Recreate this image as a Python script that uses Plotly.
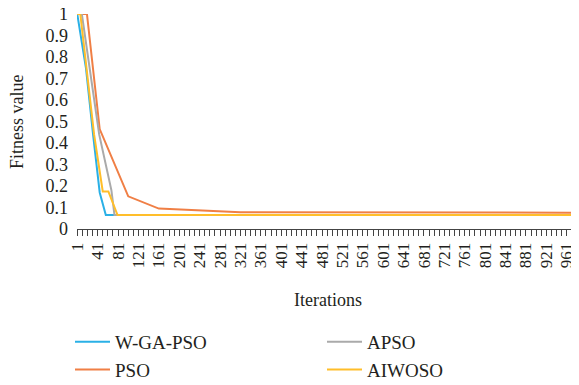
import plotly.graph_objects as go

# ---- data ----
wga_iter = [1, 18, 32, 45, 57, 1000]
wga_val = [1.0, 0.75, 0.44, 0.17, 0.065, 0.065]

pso_iter = [1, 20, 45, 101, 161, 321, 1000]
pso_val = [1.0, 1.0, 0.465, 0.152, 0.095, 0.078, 0.076]

apso_iter = [1, 10, 44, 68, 74, 1000]
apso_val = [1.0, 1.0, 0.44, 0.18, 0.065, 0.065]

aiwoso_iter = [1, 7, 34, 51, 62, 80, 1000]
aiwoso_val = [1.0, 1.0, 0.44, 0.175, 0.175, 0.065, 0.065]

y_ticks = [0, 0.1, 0.2, 0.3, 0.4, 0.5, 0.6, 0.7, 0.8, 0.9, 1]
y_tick_labels = ["0", "0.1", "0.2", "0.3", "0.4", "0.5", "0.6", "0.7", "0.8", "0.9", "1"]

FONT = "Liberation Serif, Times New Roman, serif"
TXT = "#231F20"

# page body has an 8px margin: the figure is laid out 8px smaller
OFF = 8
W, H = 579 - OFF, 385 - OFF
L, T = 77 - OFF, 14 - OFF
PLOT_W, PLOT_H = W - L, (229 - OFF) - T

series = [
    ("W-GA-PSO", wga_iter, wga_val, "#2AB0E6", "legend"),
    ("PSO", pso_iter, pso_val, "#F07F45", "legend"),
    ("APSO", apso_iter, apso_val, "#AAAAAA", "legend2"),
    ("AIWOSO", aiwoso_iter, aiwoso_val, "#FFBE2A", "legend2"),
]

fig = go.Figure()
for name, xs, ys, col, leg in series:
    fig.add_trace(go.Scatter(
        x=xs, y=ys, mode="lines", name=name,
        line=dict(color=col, width=2),
        legend=leg,
    ))

leg_common = dict(
    orientation="v", xref="container", yref="container",
    xanchor="left", yanchor="top", itemwidth=35,
    font=dict(family=FONT, size=19, color=TXT),
    bgcolor="rgba(0,0,0,0)", tracegroupgap=0,
)

fig.update_layout(
    width=W, height=H,
    margin=dict(l=L, r=0, t=T, b=H - (229 - OFF), autoexpand=False),
    paper_bgcolor="white", plot_bgcolor="white",
    font=dict(family=FONT, size=18, color=TXT),
    showlegend=True,
    legend=dict(x=(70 - OFF) / W, y=1 - (323 - OFF) / H, **leg_common),
    legend2=dict(x=(322 - OFF) / W, y=1 - (323 - OFF) / H, **leg_common),
    annotations=[dict(
        text="Fitness value", textangle=-90, showarrow=False,
        xref="paper", yref="paper",
        x=(17 - OFF - L) / PLOT_W, y=(229 - 122) / PLOT_H,
        xanchor="center", yanchor="middle",
        font=dict(family=FONT, size=18, color=TXT),
    )],
)

fig.update_xaxes(
    range=[0.5, 985],
    tickmode="linear", tick0=1, dtick=40,
    ticks="outside", ticklen=6, tickcolor="#444", tickwidth=1,
    minor=dict(tick0=1, dtick=10, ticks="outside", ticklen=6, tickcolor="#444", tickwidth=1),
    tickangle=-90, tickfont=dict(family=FONT, size=17, color=TXT),
    ticklabeloverflow="allow",
    showline=True, linecolor="#444", linewidth=1,
    showgrid=False, zeroline=False,
    title=dict(text="Iterations", standoff=26, font=dict(family=FONT, size=18, color=TXT)),
    automargin=False,
)

fig.update_yaxes(
    range=[0, 1],
    tickmode="array", tickvals=y_ticks, ticktext=y_tick_labels,
    ticks="", tickfont=dict(family=FONT, size=18, color=TXT),
    ticklabeloverflow="allow",
    ticklabelstandoff=8,
    showline=False, showgrid=False, zeroline=False,
    automargin=False,
)

fig.write_html("out.html")
